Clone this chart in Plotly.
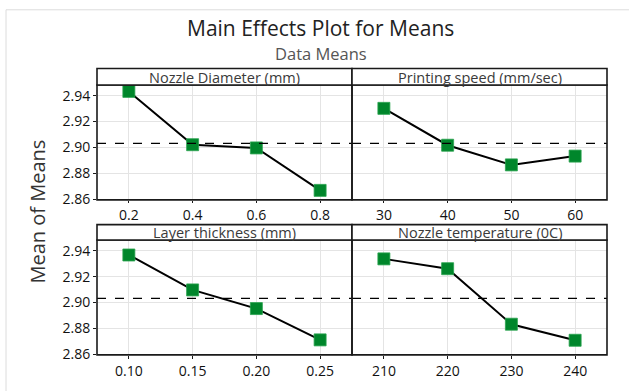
import plotly.graph_objects as go

# Factor levels and mean responses
nozzle_diameter = ["0.2", "0.4", "0.6", "0.8"]
nozzle_diameter_means = [2.9433, 2.9021, 2.8996, 2.8668]

printing_speed = ["30", "40", "50", "60"]
printing_speed_means = [2.9302, 2.9017, 2.8865, 2.8933]

layer_thickness = ["0.10", "0.15", "0.20", "0.25"]
layer_thickness_means = [2.9367, 2.9097, 2.8953, 2.8711]

nozzle_temperature = ["210", "220", "230", "240"]
nozzle_temperature_means = [2.9337, 2.9261, 2.8832, 2.8708]

panel_titles = ["Nozzle Diameter (mm)", "Printing speed (mm/sec)",
                "Layer thickness (mm)", "Nozzle temperature (0C)"]
y_ticks = [2.86, 2.88, 2.90, 2.92, 2.94]
y_range = [2.8595, 2.9483]

panels = [
    (nozzle_diameter, nozzle_diameter_means),
    (printing_speed, printing_speed_means),
    (layer_thickness, layer_thickness_means),
    (nozzle_temperature, nozzle_temperature_means),
]
all_means = [v for _, vals in panels for v in vals]
grand_mean = sum(all_means) / len(all_means)

W, H = 629, 391
FONT = "Open Sans"
GREEN = "#00862b"
FRAME = "#1a1a1a"

def px_x(p):
    return p / W

def px_y(p):
    return 1 - p / H

col_x = [(97, 352), (352, 607)]
row_plot = [(86.7, 204.0), (245.0, 362.3)]
row_head = [(70.0, 86.7), (229.3, 245.0)]

fig = go.Figure()
shapes = []
annotations = []

for i, (cats, vals) in enumerate(panels):
    r, c = divmod(i, 2)
    n = i + 1
    xa = "xaxis" if n == 1 else f"xaxis{n}"
    ya = "yaxis" if n == 1 else f"yaxis{n}"
    xr = "x" if n == 1 else f"x{n}"
    yr = "y" if n == 1 else f"y{n}"

    fig.add_trace(go.Scatter(
        x=cats, y=vals, xaxis=xr, yaxis=yr, mode="lines+markers",
        line=dict(color="black", width=2),
        marker=dict(symbol="square", size=12, color=GREEN,
                    line=dict(color="#2aa34f", width=0.8)),
        showlegend=False, cliponaxis=False,
    ))

    x0, x1 = col_x[c]
    y_top, y_bot = row_plot[r]
    fig.layout[xa] = dict(
        domain=[px_x(x0), px_x(x1)], anchor=yr,
        type="category", range=[-0.5, 3.5],
        showgrid=True, gridcolor="#e4e4e4", gridwidth=1,
        showline=False,
        ticks="outside", ticklen=2 if r == 0 else 3, tickcolor=FRAME,
        tickfont=dict(family=FONT, size=14, color="#111"),
        zeroline=False, fixedrange=True,
    )
    fig.layout[ya] = dict(
        domain=[px_y(y_bot), px_y(y_top)], anchor=xr,
        range=y_range, tickvals=y_ticks,
        ticktext=[f"{t:.2f}" for t in y_ticks],
        showticklabels=(c == 0),
        showgrid=True, gridcolor="#e4e4e4", gridwidth=1,
        showline=False,
        ticks="outside" if c == 0 else "", ticklen=3, tickcolor=FRAME,
        tickfont=dict(family=FONT, size=14, color="#111"),
        zeroline=False, fixedrange=True,
    )

    # Grand mean reference line
    shapes.append(dict(
        type="line", xref=f"{xr} domain", yref=yr, x0=0, x1=1,
        y0=grand_mean, y1=grand_mean,
        line=dict(color="black", width=1.3, dash="dash"), layer="above",
    ))

    # Panel frame
    shapes.append(dict(
        type="rect", xref="paper", yref="paper",
        x0=px_x(x0), x1=px_x(x1), y0=px_y(y_bot), y1=px_y(y_top),
        line=dict(color=FRAME, width=1.6), layer="above",
    ))

    # Panel header strip
    h_top, h_bot = row_head[r]
    shapes.append(dict(
        type="rect", xref="paper", yref="paper",
        x0=px_x(x0), x1=px_x(x1), y0=px_y(h_bot), y1=px_y(h_top),
        line=dict(color=FRAME, width=1.6), fillcolor="white",
    ))
    annotations.append(dict(
        text=panel_titles[i], xref="paper", yref="paper",
        x=(px_x(x0) + px_x(x1)) / 2, y=px_y(h_bot + 3.5),
        xanchor="center", yanchor="bottom", showarrow=False,
        borderpad=0,
        font=dict(family=FONT, size=14.5, color="#3a3a3a"),
    ))

# Outer frame
shapes.append(dict(
    type="rect", xref="paper", yref="paper",
    x0=px_x(6), x1=px_x(640), y0=px_y(400), y1=px_y(10),
    line=dict(color="#dcdcdc", width=1), layer="below",
))

annotations += [
    dict(text="Main Effects Plot for Means", xref="paper", yref="paper",
         x=px_x(320), y=px_y(29), xanchor="center", yanchor="middle",
         showarrow=False, borderpad=0,
         font=dict(family=FONT, size=21, color="#222222")),
    dict(text="Data Means", xref="paper", yref="paper",
         x=px_x(321), y=px_y(54.5), xanchor="center", yanchor="middle",
         showarrow=False, borderpad=0,
         font=dict(family=FONT, size=16.5, color="#555555")),
    dict(text="Mean of Means", xref="paper", yref="paper",
         x=px_x(38), y=px_y(216), xanchor="center", yanchor="middle",
         textangle=-90, showarrow=False,
         font=dict(family=FONT, size=20, color="#333333")),
]

fig.update_layout(
    width=W, height=H, margin=dict(l=0, r=0, t=0, b=0),
    paper_bgcolor="white", plot_bgcolor="white",
    shapes=shapes, annotations=annotations,
)

fig.write_html("out.html", config={"displayModeBar": False})
